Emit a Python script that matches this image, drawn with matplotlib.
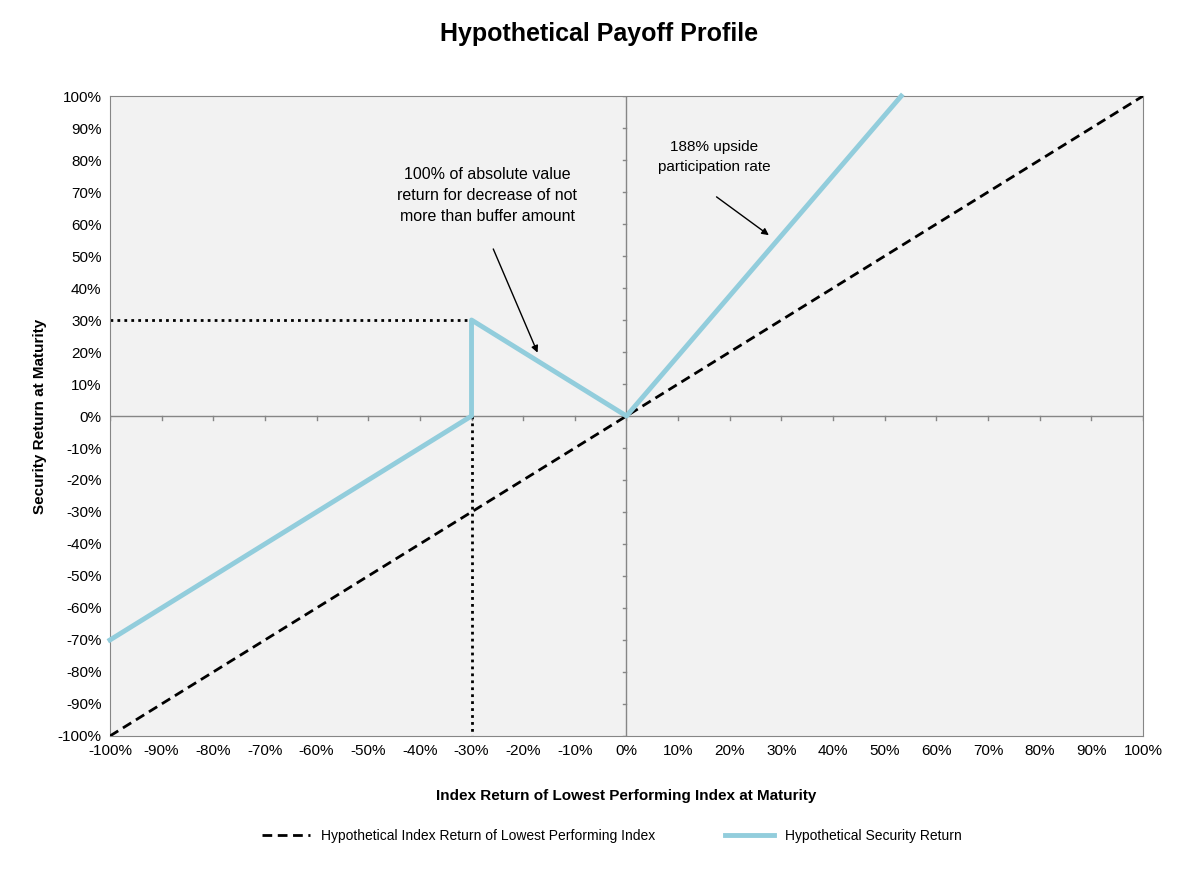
import matplotlib
matplotlib.use("Agg")
import matplotlib.pyplot as plt
import numpy as np

plt.rcParams['font.family'] = ['Liberation Sans', 'DejaVu Sans']

# data (percent)
index_x = [-100, 100]
index_y = [-100, 100]
sec_x = [-100, -30, -30, 0, 100 / 1.88]
sec_y = [-70, 0, 30, 0, 100]
buffer_level = -30
buffer_return = 30
ticks = list(range(-100, 101, 10))
tick_labels = ["{}%".format(t) for t in ticks]

fig = plt.figure(figsize=(11.99, 8.77), dpi=100)
ax = fig.add_axes([0.0917, 0.1608, 0.8616, 0.7297])
ax.set_facecolor("#f2f2f2")
ax.set_xlim(-100, 100)
ax.set_ylim(-100, 100)

# centre axes with small ticks
ax.axhline(0, color="#868686", lw=1, zorder=1)
ax.axvline(0, color="#868686", lw=1, zorder=1)
for t in ticks:
    ax.plot([t, t], [-1.2, 0], color="#868686", lw=1, zorder=1)
    ax.plot([-0.6, 0], [t, t], color="#868686", lw=1, zorder=1)

ax.plot([-100, buffer_level], [buffer_return, buffer_return], color="black", lw=2,
        linestyle=(0, (1, 1.5)), zorder=2)
ax.plot([buffer_level, buffer_level], [0, -100], color="black", lw=2,
        linestyle=(0, (1, 1.5)), zorder=2)

ax.plot(index_x, index_y, color="black", lw=2, linestyle=(0, (3.5, 2)),
        label="Hypothetical Index Return of Lowest Performing Index", zorder=3)
ax.plot(sec_x, sec_y, color="#92cddc", lw=3.5, label="Hypothetical Security Return",
        zorder=4, clip_on=False)

ax.set_xticks(ticks)
ax.set_xticklabels(tick_labels)
ax.set_yticks(ticks)
ax.set_yticklabels(tick_labels)
ax.tick_params(axis="both", length=0, labelsize=11, pad=6)
for s in ax.spines.values():
    s.set_color("#868686")

ax.text(-27, 69, "100% of absolute value\nreturn for decrease of not\nmore than buffer amount",
        ha="center", va="center", fontsize=11.5, linespacing=1.5)
ax.annotate("", xy=(-17, 19), xytext=(-26, 53),
            arrowprops=dict(arrowstyle="-|>", color="black", lw=1))
ax.text(17, 81, "188% upside\nparticipation rate", ha="center", va="center",
        fontsize=11, linespacing=1.5)
ax.annotate("", xy=(28, 56), xytext=(17, 69),
            arrowprops=dict(arrowstyle="-|>", color="black", lw=1))

fig.suptitle("Hypothetical Payoff Profile", fontsize=18, fontweight="bold", y=0.975)
ax.set_xlabel("Index Return of Lowest Performing Index at Maturity", fontsize=11,
              fontweight="bold", labelpad=22)
ax.set_ylabel("Security Return at Maturity", fontsize=11, fontweight="bold", labelpad=8)

fig.legend(loc="lower center", bbox_to_anchor=(0.51, 0.025), ncol=2, frameon=False,
           fontsize=10, handlelength=3.5, columnspacing=5)

fig.savefig("out.png", dpi=100)
